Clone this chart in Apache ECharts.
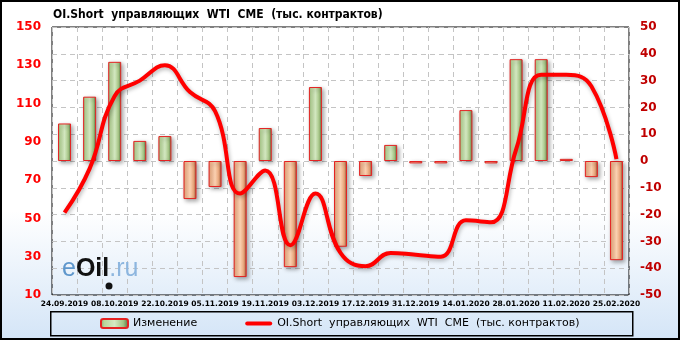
<!DOCTYPE html>
<html><head><meta charset="utf-8">
<script src="https://cdn.jsdelivr.net/npm/echarts@6/dist/echarts.min.js"></script>
<style>html,body{margin:0;padding:0;background:#fff;} #c{width:680px;height:340px;}</style>
</head><body><div id="c"></div>
<script>
const categories = ['24.09.2019','01.10.2019','08.10.2019','15.10.2019','22.10.2019','29.10.2019','05.11.2019','12.11.2019','19.11.2019','26.11.2019','03.12.2019','10.12.2019','17.12.2019','24.12.2019','31.12.2019','07.01.2020','14.01.2020','21.01.2020','28.01.2020','04.02.2020','11.02.2020','18.02.2020','25.02.2020'];
const changeValues = [14, 24, 37, 7.5, 9.3, -14.2, -9.7, -43.3, 12.3, -39.6, 27.6, -32, -5.6, 6, -0.9, -0.9, 19, -0.9, 38, 38, 0.8, -6, -37];
const oiShortValues = [53, 76, 114, 122, 130, 116, 106, 63, 75, 36, 63, 32, 25, 32, 31, 30, 49, 48, 86, 125, 125, 119, 81];
const leftLabels = [10, 30, 50, 70, 90, 110, 130, 150];
const seriesNames = ['Изменение', 'OI.Short  управляющих  WTI  CME  (тыс. контрактов)'];
const titleText = 'OI.Short  управляющих  WTI  CME  (тыс. контрактов)';

const G = echarts.graphic.LinearGradient;
const greenFill = new G(0,0,1,0,[{offset:0,color:'#86a665'},{offset:0.15,color:'#b9d79b'},{offset:0.5,color:'#d5eac2'},{offset:0.8,color:'#a3c383'},{offset:1,color:'#4f6a3a'}]);
const orangeFill = new G(0,0,1,0,[{offset:0,color:'#c98258'},{offset:0.15,color:'#f2b48c'},{offset:0.5,color:'#fdd3b3'},{offset:0.8,color:'#e6a175'},{offset:1,color:'#844a2f'}]);

const barData = changeValues.map(v => ({value: v, itemStyle: {color: v >= 0 ? greenFill : orangeFill}}));

const chart = echarts.init(document.getElementById('c'), null, {renderer:'canvas'});
chart.setOption({
  animation: false,
  backgroundColor: new G(0,0,0,1,[{offset:0,color:'#ffffff'},{offset:0.62,color:'#ffffff'},{offset:1,color:'#d4e5f7'}]),
  title: {text: titleText, left: 48, top: 4, textStyle:{fontFamily:"'DejaVu Sans Condensed', 'Liberation Sans'", fontSize:12, fontWeight:'bold', color:'#000'}},
  grid: {left: 52, right: 51, top: 27, bottom: 45, show: true, borderColor:'#000', borderWidth:1, backgroundColor:'transparent'},
  legend: {left: 100, top: 318, padding: 0, itemWidth: 27, itemHeight: 9, itemGap: 48,
    data: [{name: seriesNames[0]}, {name: seriesNames[1], icon: 'path://M2,0 L25,0 A2,2 0 0 1 25,4 L2,4 A2,2 0 0 1 2,0 Z'}],
    textStyle:{fontFamily:'DejaVu Sans', fontSize:11, color:'#000'}},
  xAxis: {type:'category', data: categories, boundaryGap:true,
    axisLine:{show:false}, axisTick:{show:false},
    axisLabel:{interval:1, fontFamily:'DejaVu Sans', fontSize:7.5, fontWeight:'bold', color:'#000', margin:5},
    splitLine:{show:true, interval:0, lineStyle:{color:'#c4c4c4', type:[5,4], width:1}}},
  yAxis: [
    {type:'value', min:10, max:150, interval:10, position:'left',
      axisLine:{show:false}, axisTick:{show:false}, splitLine:{show:false},
      axisLabel:{margin:11, fontFamily:'DejaVu Sans', fontSize:12, fontWeight:'bold', color:'#ff0000',
        formatter: v => leftLabels.indexOf(v) >= 0 ? String(v) : ''}},
    {type:'value', min:-50, max:50, interval:10, position:'right',
      axisLine:{show:false}, axisTick:{show:false},
      splitLine:{show:true, lineStyle:{color:'#c4c4c4', type:[5,4], width:1}},
      axisLabel:{margin:11, fontFamily:'DejaVu Sans', fontSize:12, fontWeight:'bold', color:'#c00000'}}
  ],
  series: [
    {name: seriesNames[0], type:'bar', yAxisIndex:1, data: barData, barWidth:13, z:2,
      itemStyle:{color: greenFill, borderColor:'#e52222', borderWidth:1,
        shadowColor:'rgba(0,0,0,0.35)', shadowBlur:4, shadowOffsetX:2, shadowOffsetY:2}},
    {name: seriesNames[1], type:'line', yAxisIndex:0, data: oiShortValues, smooth:0.45, symbol:'none', z:3,
      lineStyle:{color:'#ff0000', width:4, shadowColor:'rgba(0,0,0,0.3)', shadowBlur:4, shadowOffsetX:1, shadowOffsetY:2},
      itemStyle:{color:'#ff0000'}}
  ],
  graphic: [
    {type:'rect', left:50, top:311, shape:{width:582, height:24}, style:{fill:'transparent', stroke:'#000', lineWidth:1.5}, z:-1},
    {type:'rect', left:0, top:0, shape:{x:1, y:1, width:678, height:338}, style:{fill:'transparent', stroke:'#000', lineWidth:2}, z:10},
    {type:'text', left:62, top:257, z:1, style:{
      text:'{a|e}{b|Oil}{c|.ru}',
      rich:{a:{fontFamily:'Liberation Sans', fontSize:25, fill:'#5f97cc'}, b:{fontFamily:'Liberation Sans', fontSize:25, fontWeight:'bold', fill:'#111'}, c:{fontFamily:'Liberation Sans', fontSize:25, fill:'#8db6df'}}}},
    {type:'circle', shape:{cx:109, cy:286, r:3.5}, style:{fill:'#111'}, z:1}
  ]
});
</script></body></html>
